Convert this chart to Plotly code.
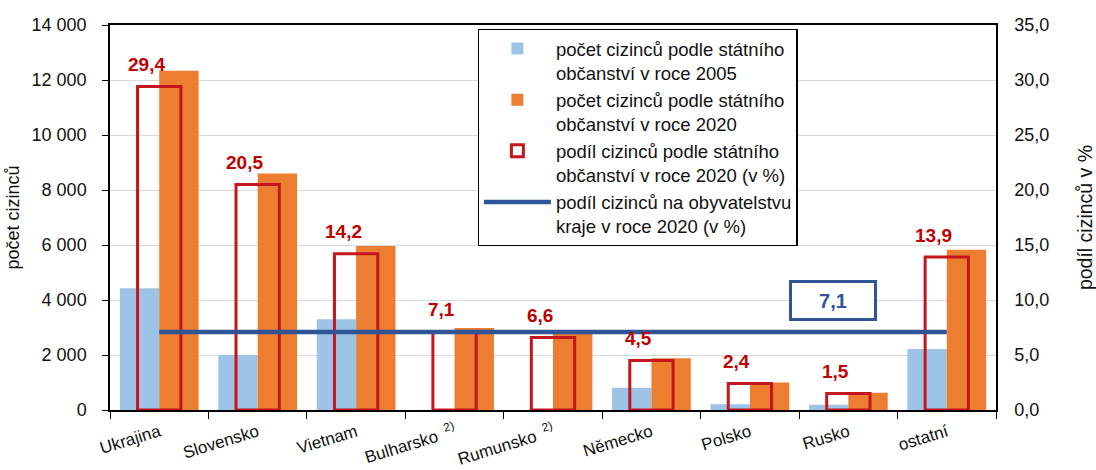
import plotly.graph_objects as go

categories = ["Ukrajina", "Slovensko", "Vietnam", "Bulharsko", "Rumunsko",
              "Německo", "Polsko", "Rusko", "ostatní"]
tick_labels = ["Ukrajina", "Slovensko", "Vietnam", "Bulharsko <sup> 2)</sup>",
               "Rumunsko <sup> 2)</sup>", "Německo", "Polsko", "Rusko", "ostatní"]
count_2005 = [4430, 2000, 3300, 0, 0, 810, 210, 190, 2220]
count_2020 = [12340, 8600, 5960, 2980, 2770, 1880, 1000, 630, 5830]
share_2020 = [29.4, 20.5, 14.2, 7.1, 6.6, 4.5, 2.4, 1.5, 13.9]
share_region = [7.1, 7.1, 7.1, 7.1, 7.1, 7.1, 7.1, 7.1, 7.1]
region_label = "7,1"
left_ticks = [0, 2000, 4000, 6000, 8000, 10000, 12000, 14000]
right_ticks = [0, 5, 10, 15, 20, 25, 30, 35]

FONT = "Liberation Sans, Arial, sans-serif"
TXT = "#111111"
BLUE_LIGHT = "#9DC3E6"
ORANGE = "#ED7D31"
RED = "#C4161C"
RED_TXT = "#C00000"
NAVY = "#2F5597"

fig = go.Figure()
fig.add_trace(go.Bar(
    x=categories, y=count_2005, marker_color=BLUE_LIGHT, marker_line_width=0,
    name="počet cizinců podle státního<br>občanství v roce 2005", yaxis="y"))
fig.add_trace(go.Bar(
    x=categories, y=count_2020, marker_color=ORANGE, marker_line_width=0,
    name="počet cizinců podle státního<br>občanství v roce 2020", yaxis="y"))
fig.add_trace(go.Bar(
    x=categories, y=share_2020, yaxis="y2", width=0.44,
    marker=dict(color="rgba(255,255,255,0)", line=dict(color=RED, width=3)),
    name="podíl cizinců podle státního<br>občanství v roce 2020 (v %)"))
fig.add_trace(go.Scatter(
    x=categories, y=share_region, yaxis="y2", mode="lines",
    line=dict(color=NAVY, width=4.5),
    name="podíl cizinců na obyvatelstvu<br>kraje v roce 2020 (v %)"))

annotations = []
for c, v in zip(categories, share_2020):
    annotations.append(dict(
        x=c, y=v, xref="x", yref="y2", text="<b>" + f"{v:.1f}".replace(".", ",") + "</b>",
        showarrow=False, yanchor="middle", yshift=22, xshift=-13,
        font=dict(family=FONT, size=19, color=RED_TXT)))
annotations.append(dict(
    x=6.84, y=10.0, xref="x", yref="y2", text="<b>" + region_label + "</b>",
    showarrow=False, xanchor="center", yanchor="middle",
    width=78, height=31, borderpad=2, bordercolor=NAVY, borderwidth=3,
    bgcolor="white", font=dict(family=FONT, size=20, color=NAVY)))

fig.update_layout(
    width=1096, height=470,
    margin=dict(l=110, r=100, t=25, b=60, autoexpand=False),
    paper_bgcolor="white", plot_bgcolor="white",
    separators=", ",
    font=dict(family=FONT, size=18, color=TXT),
    barmode="group", bargap=0.2, bargroupgap=0,
    xaxis=dict(
        type="category", tickvals=categories, ticktext=tick_labels,
        tickangle=-17, tickfont=dict(size=17), automargin=False,
        showline=True, linecolor="black", linewidth=1.5, mirror=True,
        ticks="outside", tickson="boundaries", ticklen=7, tickcolor="black",
        ticklabelstandoff=4, showgrid=False),
    yaxis=dict(
        range=[0, 14000], tickvals=left_ticks, tickformat=",d", automargin=False,
        showline=True, linecolor="black", linewidth=1.5,
        ticks="outside", ticklen=6, tickcolor="black", ticklabelstandoff=12,
        showgrid=True, gridcolor="#D9D9D9", gridwidth=1.2, zeroline=False,
        title=dict(text="počet cizinců", font=dict(size=18), standoff=7)),
    yaxis2=dict(
        range=[0, 35], tickvals=right_ticks, tickformat=".1f", automargin=False,
        overlaying="y", side="right", anchor="x",
        showline=True, linecolor="black", linewidth=1.5,
        ticks="", showgrid=False, zeroline=False, ticklabelstandoff=13,
        title=dict(text="podíl cizinců v %", font=dict(size=19.5), standoff=30)),
    legend=dict(
        x=0.415, y=0.99, xanchor="left", yanchor="top",
        bordercolor="black", borderwidth=1.2, bgcolor="white",
        font=dict(family=FONT, size=18.5, color=TXT),
        valign="top", itemwidth=67),
    annotations=annotations,
)

fig.write_html("out.html", config={"displayModeBar": False},
               post_script="document.body.style.margin='0';")
